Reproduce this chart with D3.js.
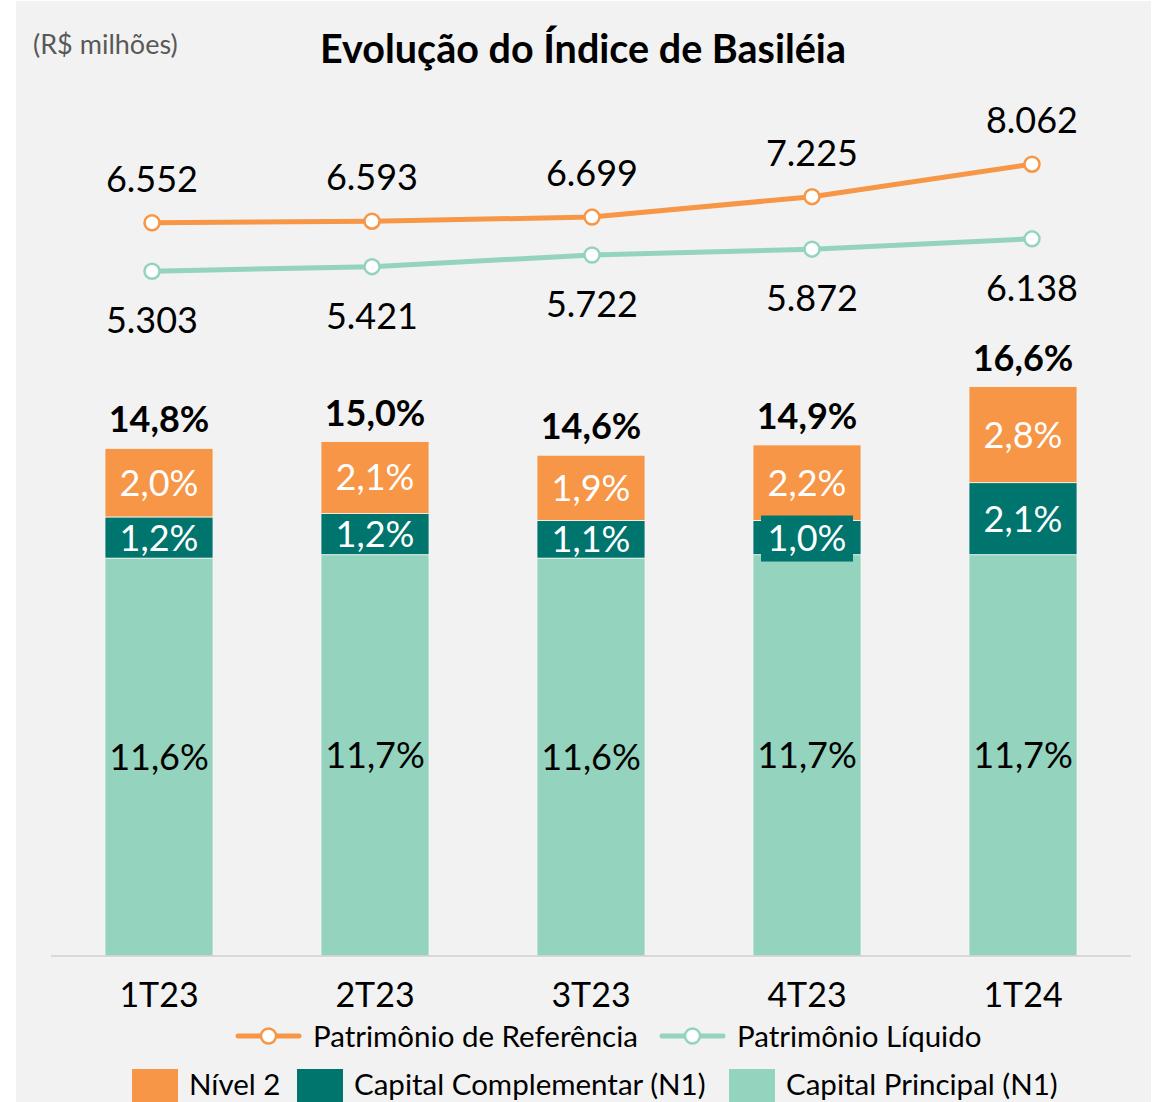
<!DOCTYPE html>
<html>
<head>
<meta charset="utf-8">
<script src="https://cdn.jsdelivr.net/npm/d3@7"></script>
<style>
  html, body { margin: 0; padding: 0; background: #ffffff; }
  svg { display: block; font-family: Lato, "Open Sans", sans-serif; }
</style>
</head>
<body>
<svg id="chart"></svg>
<script>
// Chart values
const quarters = ["1T23", "2T23", "3T23", "4T23", "1T24"];
const capitalPrincipal = [11.6, 11.7, 11.6, 11.7, 11.7];
const capitalComplementar = [1.2, 1.2, 1.1, 1.0, 2.1];
const nivel2 = [2.0, 2.1, 1.9, 2.2, 2.8];
const totalIndice = [14.8, 15.0, 14.6, 14.9, 16.6];
const patrimonioReferencia = [6552, 6593, 6699, 7225, 8062];
const patrimonioLiquido = [5303, 5421, 5722, 5872, 6138];

const width = 1155;
const height = 1102;

const colors = {
  nivel2: "#F79646",
  complementar: "#00756E",
  principal: "#94D3BE",
  bg: "#F2F2F2"
};

const fmtPct = v => v.toFixed(1).replace(".", ",") + "%";
const fmtNum = v => d3.format(",")(v).replace(/,/g, ".");

const svg = d3.select("#chart")
  .attr("width", width)
  .attr("height", height);

// Gray panel
svg.append("rect")
  .attr("x", 16).attr("y", 1)
  .attr("width", 1135).attr("height", height)
  .attr("fill", colors.bg);

// Title and unit
svg.append("text")
  .attr("x", 583).attr("y", 63)
  .attr("text-anchor", "middle")
  .style("font-size", "39.5px")
  .style("font-weight", "bold")
  .attr("fill", "#000")
  .text("Evolução do Índice de Basiléia");

svg.append("text")
  .attr("x", 33).attr("y", 54)
  .style("font-size", "27px")
  .attr("fill", "#595959")
  .text("(R$ milhões)");

// Scales
const x = d3.scaleBand()
  .domain(quarters)
  .range([51, 1131])
  .paddingInner(0.5)
  .paddingOuter(0.25);

// the line series sit on a slightly wider spacing than the bars
const xLine = d3.scalePoint()
  .domain(quarters)
  .range([152, 1032]);

const baseY = 956;
const yBar = d3.scaleLinear()
  .domain([0, 10])
  .range([baseY, baseY - 343]);

const yLine = d3.scaleLinear()
  .domain([0, 10000])
  .range([477, 89]);

// Stacked bars
const rows = quarters.map((q, i) => ({
  q,
  principal: capitalPrincipal[i],
  complementar: capitalComplementar[i],
  nivel2: nivel2[i]
}));
const keys = ["principal", "complementar", "nivel2"];
const stack = d3.stack().keys(keys)(rows);

const layers = svg.append("g").selectAll("g")
  .data(stack)
  .join("g")
  .attr("fill", d => colors[d.key]);

layers.selectAll("rect")
  .data(d => d)
  .join("rect")
  .attr("x", d => x(d.data.q))
  .attr("width", x.bandwidth())
  .attr("y", d => yBar(d[1]))
  .attr("height", d => yBar(d[0]) - yBar(d[1]))
  .attr("stroke", "#f6f6f6")
  .attr("stroke-width", 0.8);

// Segment labels
stack.forEach(layer => {
  layer.forEach((d, i) => {
    const cx = x(d.data.q) + x.bandwidth() / 2;
    const cy = (yBar(d[0]) + yBar(d[1])) / 2;
    const val = d.data[layer.key];
    const textColor = layer.key === "principal" ? "#000" : "#fff";
    // small teal segment in 4T23 gets a label box
    if (layer.key === "complementar" && i === 3) {
      svg.append("rect")
        .attr("x", cx - 46).attr("y", cy - 22)
        .attr("width", 92).attr("height", 46)
        .attr("fill", colors.complementar);
    }
    svg.append("text")
      .attr("x", cx).attr("y", cy)
      .attr("dy", "0.36em")
      .attr("text-anchor", "middle")
      .style("font-size", "36px")
      .attr("fill", textColor)
      .text(fmtPct(val));
  });
});

// Totals above bars
svg.append("g").selectAll("text")
  .data(quarters)
  .join("text")
  .attr("x", d => x(d) + x.bandwidth() / 2)
  .attr("y", (d, i) => yBar(totalIndice[i]) - 16)
  .attr("text-anchor", "middle")
  .style("font-size", "36px")
  .style("font-weight", "bold")
  .attr("fill", "#000")
  .text((d, i) => fmtPct(totalIndice[i]));

// Baseline
svg.append("line")
  .attr("x1", 51).attr("x2", 1131)
  .attr("y1", baseY).attr("y2", baseY)
  .attr("stroke", "#d0d0d0")
  .attr("stroke-width", 1.5);

// Category labels
svg.append("g").selectAll("text")
  .data(quarters)
  .join("text")
  .attr("x", d => x(d) + x.bandwidth() / 2)
  .attr("y", 1007)
  .attr("text-anchor", "middle")
  .style("font-size", "34px")
  .attr("fill", "#000")
  .text(d => d);

// Lines
const lineGen = d3.line()
  .x((d, i) => xLine(quarters[i]))
  .y(d => yLine(d));

function drawSeries(values, color, labelOffset) {
  svg.append("path")
    .datum(values)
    .attr("fill", "none")
    .attr("stroke", color)
    .attr("stroke-width", 5)
    .attr("d", lineGen);

  svg.append("g").selectAll("circle")
    .data(values)
    .join("circle")
    .attr("cx", (d, i) => xLine(quarters[i]))
    .attr("cy", d => yLine(d))
    .attr("r", 7.5)
    .attr("fill", "#fff")
    .attr("stroke", color)
    .attr("stroke-width", 2.5);

  svg.append("g").selectAll("text")
    .data(values)
    .join("text")
    .attr("x", (d, i) => xLine(quarters[i]))
    .attr("y", d => yLine(d) + labelOffset)
    .attr("dy", "0.36em")
    .attr("text-anchor", "middle")
    .style("font-size", "36px")
    .attr("fill", "#000")
    .text(d => fmtNum(d));
}

drawSeries(patrimonioReferencia, colors.nivel2, -44);
drawSeries(patrimonioLiquido, colors.principal, 49);

// Legend row 1: lines
const lineLegend = [
  { label: "Patrimônio de Referência", color: colors.nivel2, x: 238 },
  { label: "Patrimônio Líquido", color: colors.principal, x: 662 }
];
const ll = svg.append("g").selectAll("g")
  .data(lineLegend)
  .join("g")
  .attr("transform", d => `translate(${d.x}, 1036)`);
ll.append("line")
  .attr("x1", 0).attr("x2", 61)
  .attr("stroke", d => d.color)
  .attr("stroke-width", 5)
  .attr("stroke-linecap", "round");
ll.append("circle")
  .attr("cx", 30.5).attr("r", 7.5)
  .attr("fill", "#fff")
  .attr("stroke", d => d.color)
  .attr("stroke-width", 2.5);
ll.append("text")
  .attr("x", 75).attr("dy", "0.36em")
  .style("font-size", "29.5px")
  .attr("fill", "#000")
  .text(d => d.label);

// Legend row 2: bar segments
const barLegend = [
  { label: "Nível 2", color: colors.nivel2, x: 132 },
  { label: "Capital Complementar (N1)", color: colors.complementar, x: 297 },
  { label: "Capital Principal (N1)", color: colors.principal, x: 729 }
];
const bl = svg.append("g").selectAll("g")
  .data(barLegend)
  .join("g")
  .attr("transform", d => `translate(${d.x}, 1069)`);
bl.append("rect")
  .attr("width", 46).attr("height", 46)
  .attr("fill", d => d.color);
bl.append("text")
  .attr("x", 57).attr("y", 26)
  .style("font-size", "29.5px")
  .attr("fill", "#000")
  .text(d => d.label);
</script>
</body>
</html>
